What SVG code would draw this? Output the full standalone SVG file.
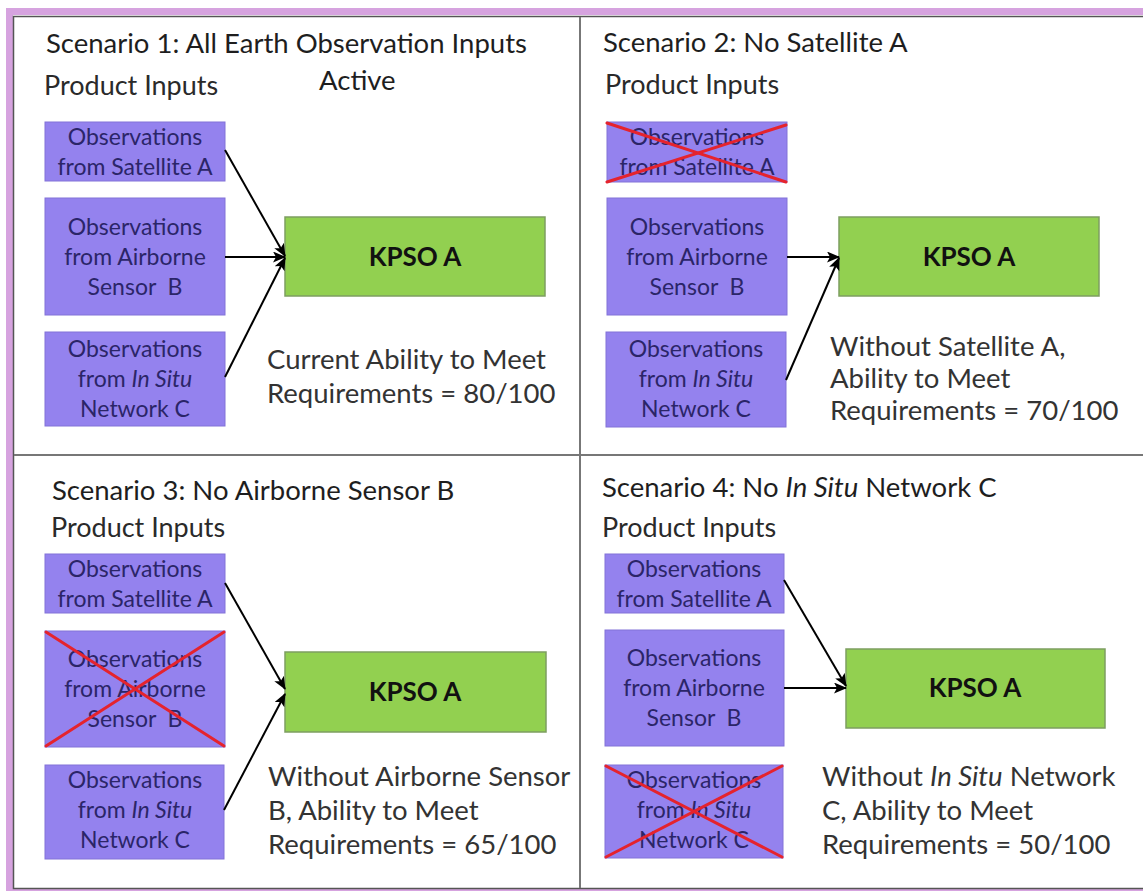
<svg xmlns="http://www.w3.org/2000/svg" width="1143" height="891" viewBox="0 0 1143 891">
<defs>
<marker id="ah" viewBox="0 0 13 11" refX="12" refY="5.5" markerWidth="13" markerHeight="11" markerUnits="userSpaceOnUse" orient="auto">
<path d="M0,0 L13,5.5 L0,11 L3,5.5 Z" fill="#000"/>
</marker>
<style>
.t{font-family:Lato,"Liberation Sans",sans-serif;fill:#1e1e1e}
.title{font-size:27.5px}
.pi{font-size:27px;fill:#2a2a2a}
.body{font-size:27.5px;fill:#333}
.box{fill:#9482EE;stroke:#8272d8;stroke-width:1}
.bt{font-family:Lato,"Liberation Sans",sans-serif;font-size:23px;fill:#2b2568;text-anchor:middle;white-space:pre}
.kp{fill:#92D050;stroke:#7d9e60;stroke-width:1.5}
.kt{font-family:Lato,"Liberation Sans",sans-serif;font-size:26px;font-weight:bold;fill:#111;text-anchor:middle}
.x{stroke:#e5232d;stroke-width:3;stroke-linecap:round}
.c{stroke:#000;stroke-width:2;fill:none;marker-end:url(#ah)}
.div{stroke:#777;stroke-width:2}
</style>
</defs>
<rect width="1143" height="891" fill="#fff"/>
<g id="frame">
<rect x="9.5" y="11.5" width="1140" height="880" fill="none" stroke="#D6A3DF" stroke-width="7"/>
<rect x="13.5" y="16.5" width="1140" height="872" fill="#fff" stroke="#555" stroke-width="1.5"/>
<line class="div" x1="580" y1="17" x2="580" y2="888"/>
<line class="div" x1="14" y1="455" x2="1143" y2="455"/>
</g>

<g id="q1-labels">
<text class="t title" x="46" y="53">Scenario 1: All Earth Observation Inputs</text>
<text class="t title" x="319" y="90">Active</text>
<text class="t pi" x="44" y="95">Product Inputs</text>
<text class="t body" x="267" y="369">Current Ability to Meet</text>
<text class="t body" x="267" y="403">Requirements = 80/100</text>
</g>
<g id="q1-satA"><rect class="box" x="45" y="122" width="180" height="59"/><text class="bt" x="135" y="145">Observations</text><text class="bt" x="135" y="175">from Satellite A</text></g>
<g id="q1-airB"><rect class="box" x="45" y="198" width="180" height="117"/><text class="bt" x="135" y="235">Observations</text><text class="bt" x="135" y="265">from Airborne</text><text class="bt" x="135" y="295">Sensor  B</text></g>
<g id="q1-netC"><rect class="box" x="45" y="332" width="180" height="94"/><text class="bt" x="135" y="357">Observations</text><text class="bt" x="135" y="387">from <tspan font-style="italic">In Situ</tspan></text><text class="bt" x="135" y="417">Network C</text></g>
<g id="q1-kpso"><rect class="kp" x="285" y="217" width="260" height="79"/><text class="kt" x="415" y="266">KPSO A</text></g>

<g id="q2-labels">
<text class="t title" x="603" y="52">Scenario 2: No Satellite A</text>
<text class="t pi" x="605" y="94">Product Inputs</text>
<text class="t body" x="830" y="356">Without Satellite A,</text>
<text class="t body" x="830" y="388">Ability to Meet</text>
<text class="t body" x="830" y="420">Requirements = 70/100</text>
</g>
<g id="q2-satA"><rect class="box" x="607" y="122" width="180" height="60"/><text class="bt" x="697" y="145">Observations</text><text class="bt" x="697" y="175">from Satellite A</text><line class="x" x1="607" y1="123" x2="786" y2="182"/><line class="x" x1="607" y1="182" x2="786" y2="125"/></g>
<g id="q2-airB"><rect class="box" x="607" y="198" width="180" height="117"/><text class="bt" x="697" y="235">Observations</text><text class="bt" x="697" y="265">from Airborne</text><text class="bt" x="697" y="295">Sensor  B</text></g>
<g id="q2-netC"><rect class="box" x="606" y="332" width="180" height="95"/><text class="bt" x="696" y="357">Observations</text><text class="bt" x="696" y="387">from <tspan font-style="italic">In Situ</tspan></text><text class="bt" x="696" y="417">Network C</text></g>
<g id="q2-kpso"><rect class="kp" x="839" y="217" width="260" height="79"/><text class="kt" x="969" y="266">KPSO A</text></g>

<g id="q3-labels">
<text class="t title" x="52" y="500">Scenario 3: No Airborne Sensor B</text>
<text class="t pi" x="51" y="537">Product Inputs</text>
<text class="t body" x="268" y="786">Without Airborne Sensor</text>
<text class="t body" x="268" y="820">B, Ability to Meet</text>
<text class="t body" x="268" y="854">Requirements = 65/100</text>
</g>
<g id="q3-satA"><rect class="box" x="45" y="554" width="180" height="59"/><text class="bt" x="135" y="577">Observations</text><text class="bt" x="135" y="607">from Satellite A</text></g>
<g id="q3-airB"><rect class="box" x="45" y="631" width="180" height="116"/><text class="bt" x="135" y="667">Observations</text><text class="bt" x="135" y="697">from Airborne</text><text class="bt" x="135" y="727">Sensor  B</text><line class="x" x1="46" y1="632" x2="224" y2="746"/><line class="x" x1="46" y1="746" x2="224" y2="632"/></g>
<g id="q3-netC"><rect class="box" x="45" y="765" width="179" height="94"/><text class="bt" x="135" y="788">Observations</text><text class="bt" x="135" y="818">from <tspan font-style="italic">In Situ</tspan></text><text class="bt" x="135" y="848">Network C</text></g>
<g id="q3-kpso"><rect class="kp" x="285" y="652" width="261" height="80"/><text class="kt" x="415" y="701">KPSO A</text></g>

<g id="q4-labels">
<text class="t title" x="602" y="497">Scenario 4: No <tspan font-style="italic">In Situ</tspan> Network C</text>
<text class="t pi" x="602" y="537">Product Inputs</text>
<text class="t body" x="822" y="786">Without <tspan font-style="italic">In Situ</tspan> Network</text>
<text class="t body" x="822" y="820">C, Ability to Meet</text>
<text class="t body" x="822" y="854">Requirements = 50/100</text>
</g>
<g id="q4-satA"><rect class="box" x="605" y="554" width="179" height="59"/><text class="bt" x="694" y="577">Observations</text><text class="bt" x="694" y="607">from Satellite A</text></g>
<g id="q4-airB"><rect class="box" x="605" y="630" width="179" height="116"/><text class="bt" x="694" y="666">Observations</text><text class="bt" x="694" y="696">from Airborne</text><text class="bt" x="694" y="726">Sensor  B</text></g>
<g id="q4-netC"><rect class="box" x="605" y="765" width="178" height="93"/><text class="bt" x="694" y="788">Observations</text><text class="bt" x="694" y="818">from <tspan font-style="italic">In Situ</tspan></text><text class="bt" x="694" y="848">Network C</text><line class="x" x1="606" y1="766" x2="782" y2="857"/><line class="x" x1="606" y1="857" x2="782" y2="766"/></g>
<g id="q4-kpso"><rect class="kp" x="846" y="649" width="259" height="79"/><text class="kt" x="975" y="697">KPSO A</text></g>

<g id="connectors">
<line class="c" x1="225" y1="150" x2="285" y2="256"/>
<line class="c" x1="225" y1="257" x2="285" y2="257"/>
<line class="c" x1="225" y1="377" x2="285" y2="258"/>
<line class="c" x1="787" y1="257" x2="839" y2="257"/>
<line class="c" x1="786" y1="380" x2="839" y2="258"/>
<line class="c" x1="225" y1="583" x2="285" y2="689"/>
<line class="c" x1="224" y1="810" x2="285" y2="694"/>
<line class="c" x1="784" y1="580" x2="846" y2="686"/>
<line class="c" x1="784" y1="688" x2="846" y2="688"/>
</g>
</svg>
